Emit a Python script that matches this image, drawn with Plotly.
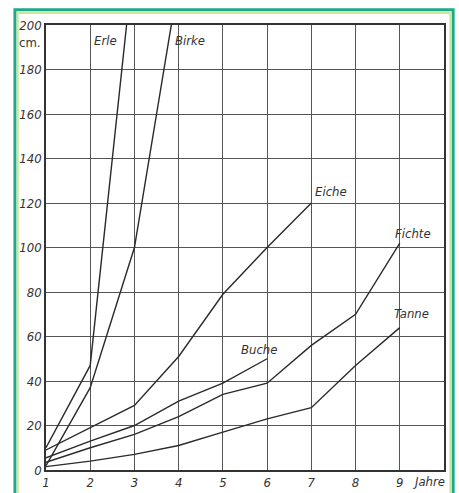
import plotly.graph_objects as go

# Data (years, height in cm)
erle_x = [1, 2, 3]
erle_y = [10, 47, 233]
birke_x = [1, 2, 3, 4]
birke_y = [2, 37, 100, 220]
eiche_x = [1, 2, 3, 4, 5, 6, 7]
eiche_y = [9, 19, 29, 51, 79, 100, 120]
buche_x = [1, 2, 3, 4, 5, 6]
buche_y = [5.5, 13, 20, 31, 39, 50]
fichte_x = [1, 2, 3, 4, 5, 6, 7, 8, 9]
fichte_y = [3.5, 10, 16, 24, 34, 39, 56, 70, 102]
tanne_x = [1, 2, 3, 4, 5, 6, 7, 8, 9]
tanne_y = [1.5, 4, 7, 11, 17, 23, 28, 47, 64]

y_ticks = [0, 20, 40, 60, 80, 100, 120, 140, 160, 180, 200]
x_ticks = [1, 2, 3, 4, 5, 6, 7, 8, 9]

series = [
    ("Erle", erle_x, erle_y, 2.03, 193),
    ("Birke", birke_x, birke_y, 3.88, 193),
    ("Eiche", eiche_x, eiche_y, 7.04, 125),
    ("Buche", buche_x, buche_y, 5.36, 54),
    ("Fichte", fichte_x, fichte_y, 8.84, 106.5),
    ("Tanne", tanne_x, tanne_y, 8.82, 70.5),
]

FONT = "DejaVu Sans Condensed, Liberation Sans Narrow, DejaVu Sans, sans-serif"
INK = "#333333"

fig = go.Figure()
for name, xs, ys, lx, ly in series:
    fig.add_trace(go.Scatter(x=xs, y=ys, mode="lines", name=name,
                             line=dict(color="#2a2a2a", width=1.4),
                             showlegend=False, hoverinfo="skip"))
    fig.add_annotation(x=lx, y=ly, text=name, showarrow=False,
                       xanchor="left", yanchor="middle",
                       font=dict(family=FONT, size=13, color=INK, style="italic"))

fig.add_annotation(x=0, y=192, xref="paper", yref="y", text="cm.", showarrow=False,
                   xanchor="right", yanchor="middle", xshift=-3,
                   font=dict(family=FONT, size=13, color=INK))
fig.add_annotation(x=9.65, y=0, text="Jahre", showarrow=False,
                   xanchor="center", yanchor="top", yshift=-2,
                   font=dict(family=FONT, size=13, color=INK, style="italic"))

fig.update_xaxes(range=[1, 10], tickvals=x_ticks, ticktext=[str(v) for v in x_ticks],
                 showgrid=True, gridcolor="#555555", gridwidth=1,
                 showline=True, linecolor="#333333", linewidth=1.5, mirror=True,
                 zeroline=False, ticks="", automargin=False,
                 tickfont=dict(family=FONT, size=13, color=INK, style="italic"))
fig.update_yaxes(range=[0, 200], tickvals=y_ticks, ticktext=[str(v) for v in y_ticks],
                 showgrid=True, gridcolor="#555555", gridwidth=1,
                 showline=True, linecolor="#333333", linewidth=1.5, mirror=True,
                 zeroline=False, ticks="", automargin=False,
                 tickfont=dict(family=FONT, size=13, color=INK, style="italic"))

# green frame around the picture
fig.add_shape(type="rect", xref="paper", yref="paper",
              x0=-0.078, x1=1.023, y0=-0.08, y1=1.034,
              line=dict(color="#1fa98a", width=3), layer="below")
fig.add_shape(type="rect", xref="paper", yref="paper",
              x0=-0.071, x1=1.016, y0=-0.075, y1=1.027,
              line=dict(color="#c9e89a", width=2), layer="below")

fig.update_layout(width=459, height=493,
                  margin=dict(l=46, r=15, t=25, b=23, autoexpand=False),
                  paper_bgcolor="white", plot_bgcolor="white",
                  font=dict(family=FONT, color=INK))

fig.write_html("out.html", config={"displayModeBar": False},
               post_script="document.body.style.margin='0';document.body.style.overflow='hidden';")
